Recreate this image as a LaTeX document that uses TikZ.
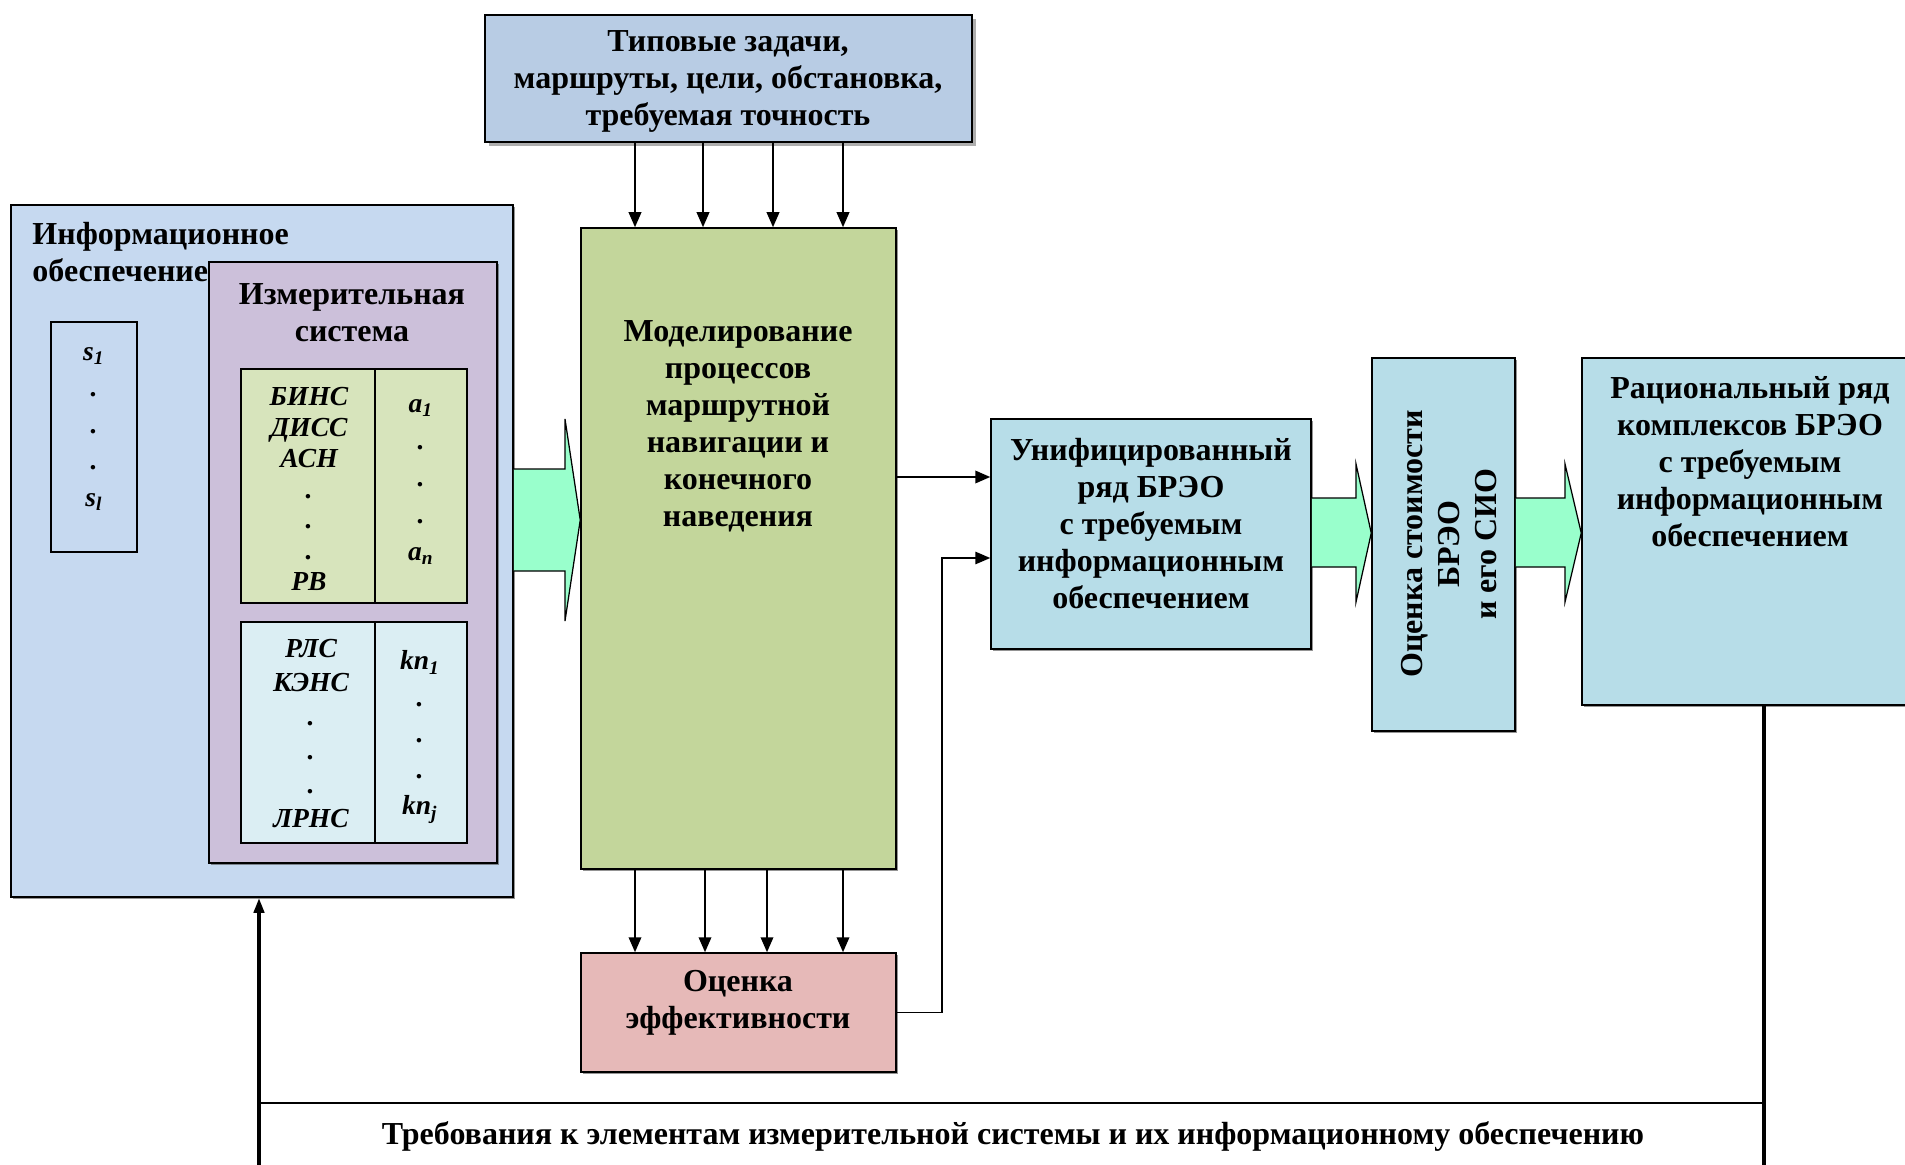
\documentclass[tikz,border=0pt]{standalone}
\usepackage{fontspec}
\setmainfont{Liberation Serif}
\usetikzlibrary{arrows.meta,fit,shadows}

\definecolor{taskblue}{RGB}{184,204,228}
\definecolor{infoblue}{RGB}{198,217,240}
\definecolor{measlilac}{RGB}{204,192,218}
\definecolor{sensgreen}{RGB}{215,228,188}
\definecolor{radarblue}{RGB}{219,238,243}
\definecolor{modgreen}{RGB}{195,214,155}
\definecolor{resblue}{RGB}{183,221,232}
\definecolor{effpink}{RGB}{230,185,184}
\definecolor{mint}{RGB}{153,255,204}

\tikzset{
  box/.style={draw, line width=0.6pt, inner sep=0pt},
  shbox/.style={box, drop shadow={shadow xshift=0.8pt, shadow yshift=-0.8pt, fill=black!70, opacity=0.6}},
  txt/.style={align=center, inner sep=0pt, font=\fontsize{12.8}{14.8}\selectfont\bfseries},
  lab/.style={align=center, inner sep=0pt, font=\fontsize{11}{12.3}\selectfont\bfseries\itshape},
  arr/.style={-{Triangle[length=6pt,width=5pt]}, line width=0.8pt},
  bigarrow/.style={fill=mint, draw, line width=0.5pt},
}

\begin{document}
\begin{tikzpicture}[x=0.4pt, y=-0.4pt]
\useasboundingbox (0,0) rectangle (1905,1165);

% inputs
\node[box, fill=taskblue, fit={(485,15) (972,142)},
  drop shadow={shadow xshift=1.6pt, shadow yshift=-1.6pt, fill=black!45, opacity=0.7}] (tasks) {};
\node[txt] (tasksT) at (728,81) {Типовые задачи,\\маршруты, цели, обстановка,\\требуемая точность};

% information support and measuring system
\node[shbox, fill=infoblue, fit={(11,205) (513,897)}] (info) {};
\node[txt, align=left, anchor=north west] (infoT) at (32,222) {Информационное\\обеспечение};
\node[box, fill=infoblue, fit={(51,322) (137,552)}] (sbox) {};
\node[lab, font=\fontsize{11}{14.6}\selectfont\bfseries\itshape] (sboxT) at (94,429)
  {s\textsubscript{1}\\.\\.\\.\\s\textsubscript{l}};

\node[shbox, fill=measlilac, fit={(209,262) (497,863)}] (meas) {};
\node[txt] (measT) at (352,313) {Измерительная\\система};

\node[box, fill=sensgreen, fit={(241,369) (375,603)}] (sens) {};
\node[box, fill=sensgreen, fit={(375,369) (467,603)}] (acol) {};
\node[lab] (sensT) at (309,489) {БИНС\\ДИСС\\АСН\\.\\.\\.\\РВ};
\node[lab, font=\fontsize{11}{14.8}\selectfont\bfseries\itshape] (acolT) at (421,482)
  {a\textsubscript{1}\\.\\.\\.\\a\textsubscript{n}};

\node[box, fill=radarblue, fit={(241,622) (375,843)}] (radio) {};
\node[box, fill=radarblue, fit={(375,622) (467,843)}] (kcol) {};
\node[lab, font=\fontsize{11}{13.6}\selectfont\bfseries\itshape] (radioT) at (311,734)
  {РЛС\\КЭНС\\.\\.\\.\\ЛРНС};
\node[lab, font=\fontsize{11}{14.5}\selectfont\bfseries\itshape] (kcolT) at (420,737)
  {kn\textsubscript{1}\\.\\.\\.\\kn\textsubscript{j}};

% modelling and evaluation
\node[shbox, fill=modgreen, fit={(581,228) (896,869)}] (model) {};
\node[txt] (modelT) at (738,426) {Моделирование\\процессов\\маршрутной\\навигации и\\конечного\\наведения};
\node[shbox, fill=effpink, fit={(581,953) (896,1072)}] (effect) {};
\node[txt] (effectT) at (738,1003) {Оценка\\эффективности};

\node[shbox, fill=resblue, fit={(991,419) (1311,649)}] (unif) {};
\node[txt] (unifT) at (1151,524) {Унифицированный\\ряд БРЭО\\с требуемым\\информационным\\обеспечением};
\node[shbox, fill=resblue, fit={(1372,358) (1515,731)}] (cost) {};
\node[txt, rotate=90] (costT) at (1449,544) {Оценка стоимости\\БРЭО\\и его СИО};
\node[shbox, fill=resblue, fit={(1582,358) (1920,705)}] (ration) {};
\node[txt] (rationT) at (1750,462) {Рациональный ряд\\комплексов БРЭО\\с требуемым\\информационным\\обеспечением};

% connectors
\foreach \x in {635,703,773,843}
  \draw[arr] (tasks.south -| \x,0) -- (model.north -| \x,0);
\foreach \x in {635,705,767,843}
  \draw[arr] (model.south -| \x,0) -- (effect.north -| \x,0);

\draw[bigarrow] (info.east |- 0,469) -- (565,469) -- (565,419) -- (model.west |- 0,520)
  -- (565,621) -- (565,571) -- (info.east |- 0,571);
\foreach \a/\b/\h in {unif/cost/1356, cost/ration/1565}
  \draw[bigarrow] (\a.east |- 0,498) -- (\h,498) -- (\h,464) -- (\b.west |- 0,533)
    -- (\h,602) -- (\h,567) -- (\a.east |- 0,567);

\draw[arr] (model.east |- 0,477) -- (unif.west |- 0,477);
\draw[arr, line width=0.6pt] (effect.east) -- (effect.east -| 942,0) |- (unif.west |- 0,558);

% feedback
\coordinate (fbR) at (1764,1165);
\coordinate (fbL) at (259,1165);
\draw[line width=1.6pt] (ration.south -| fbR) -- (fbR);
\draw[line width=0.8pt] (fbR |- 0,1103) -- (fbL |- 0,1103);
\draw[line width=1.6pt, -{Triangle[length=6pt,width=4pt]}] (fbL) -- (info.south -| fbL);
\node[txt] (reqT) at (1013,1136) {Требования к элементам измерительной системы и их информационному обеспечению};
\end{tikzpicture}
\end{document}
